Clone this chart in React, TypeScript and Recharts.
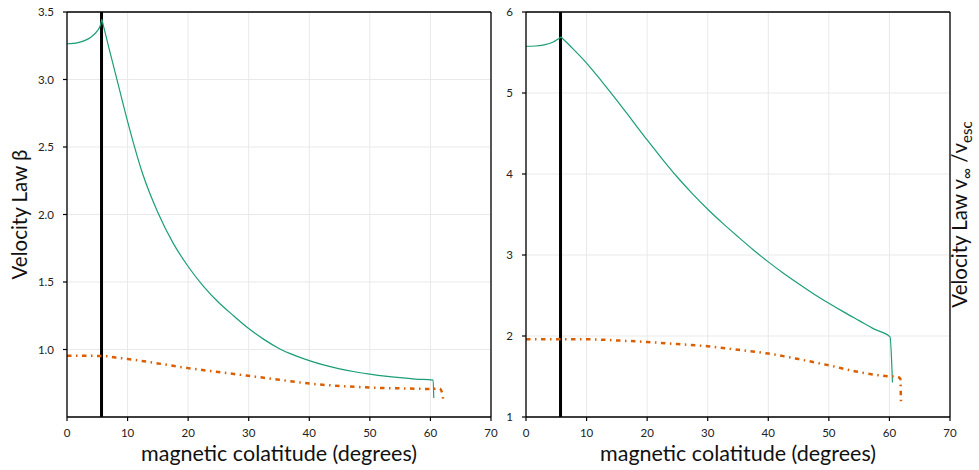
import React from "react";
import { LineChart, Line, XAxis, YAxis, CartesianGrid, ReferenceLine } from "recharts";

const FONT = "Lato, 'Noto Sans', sans-serif";
const GREEN = "#1b9e77";
const ORANGE = "#d95f02";
const GRID = "#e9e9e9";

const xTicks = [0, 10, 20, 30, 40, 50, 60, 70];
const betaTicks = [1.0, 1.5, 2.0, 2.5, 3.0, 3.5];
const vTicks = [1, 2, 3, 4, 5, 6];
const cutoffAngle = 5.7;

// left panel: velocity law beta (rise up to the cutoff, then decay)
const betaRiseTheta = [0, 1, 2, 3, 4, 5, 5.5, 5.75];
const betaRiseValues = [3.265, 3.267, 3.275, 3.29, 3.315, 3.36, 3.4, 3.446];
const betaFallTheta = [5.75, 7, 8.5, 10, 12.5, 15, 17.5, 20, 22.5, 25, 27.5, 30, 32.5, 35, 37.5, 40, 42.5, 45, 47.5, 50, 52.5, 55, 57.5, 60.45, 60.55];
const betaFallValues = [3.446, 3.22, 2.955, 2.69, 2.3, 2.015, 1.79, 1.615, 1.47, 1.35, 1.25, 1.155, 1.075, 1.008, 0.958, 0.918, 0.884, 0.857, 0.835, 0.818, 0.803, 0.791, 0.781, 0.773, 0.64];
const betaRefTheta = [0, 2, 4, 6, 8, 10, 15, 20, 25, 30, 35, 40, 45, 50, 55, 60, 61.5, 62, 62.1];
const betaRefValues = [0.953, 0.953, 0.953, 0.952, 0.94, 0.93, 0.897, 0.862, 0.833, 0.805, 0.776, 0.748, 0.73, 0.718, 0.712, 0.708, 0.71, 0.67, 0.62];

// right panel: v_inf / v_esc
const vRiseTheta = [0, 1.5, 3, 4.5, 5.78];
const vRiseValues = [5.577, 5.58, 5.595, 5.63, 5.691];
const vFallTheta = [5.78, 7.5, 10, 12.5, 15, 17.5, 20, 22.5, 25, 27.5, 30, 32.5, 35, 37.5, 40, 42.5, 45, 47.5, 50, 52.5, 55, 57.5, 60.1, 60.5];
const vFallValues = [5.691, 5.565, 5.37, 5.145, 4.91, 4.665, 4.42, 4.185, 3.96, 3.755, 3.565, 3.39, 3.225, 3.065, 2.915, 2.775, 2.645, 2.52, 2.405, 2.295, 2.19, 2.085, 1.99, 1.425];
const vRefTheta = [0, 5, 10, 15, 20, 25, 30, 35, 40, 45, 50, 55, 60, 61.1, 61.8, 61.9];
const vRefValues = [1.96, 1.96, 1.96, 1.945, 1.926, 1.9, 1.873, 1.83, 1.783, 1.715, 1.638, 1.555, 1.503, 1.5, 1.474, 1.185];

const zip = (xs: number[], ys: number[]) => xs.map((x, i) => ({ x, y: ys[i] }));

const axisLine = { stroke: "#000", strokeWidth: 1.3 };
const tickLine = { stroke: "#000", strokeWidth: 1.2 };
const tickStyle = { fill: "#222", fontSize: 11.5, fontFamily: FONT };

const xTitle = (props: any) => {
  const vb = props.viewBox;
  return (
    <text x={vb.x + vb.width / 2} y={vb.y + 44} textAnchor="middle" fontSize={21.5} fontFamily={FONT} fill="#111">
      magnetic colatitude (degrees)
    </text>
  );
};

const betaTitle = (props: any) => {
  const vb = props.viewBox;
  const cx = 27;
  const cy = vb.y + vb.height / 2;
  return (
    <text x={cx} y={cy} transform={`rotate(-90, ${cx}, ${cy})`} textAnchor="middle" fontSize={20.5} fontFamily={FONT} fill="#111">
      Velocity Law β
    </text>
  );
};

const vTitle = (props: any) => {
  const vb = props.viewBox;
  const cx = vb.x + 17;
  const cy = vb.y + vb.height / 2;
  return (
    <text x={cx} y={cy} transform={`rotate(-90, ${cx}, ${cy})`} textAnchor="middle" fontSize={20.5} fontFamily={FONT} fill="#111">
      Velocity Law v<tspan dy={5} fontSize={15}>∞</tspan>
      <tspan dy={-5}> /v</tspan>
      <tspan dy={5} fontSize={15}>esc</tspan>
    </text>
  );
};

type Pt = { x: number; y: number };

function Panel(props: {
  left: number; width: number; yWidth: number; rWidth: number;
  domain: number[]; yTicks: number[]; fmt: (v: number) => string;
  rise: Pt[]; fall: Pt[]; ref2: Pt[];
  leftTitle?: any; rightTitle?: any;
}) {
  return (
    <div style={{ position: "absolute", left: props.left, top: 0 }}>
      <LineChart width={props.width} height={470} margin={{ top: 0, right: 0, bottom: 0, left: 0 }}>
        <CartesianGrid stroke={GRID} strokeWidth={1} />
        <XAxis dataKey="x" type="number" domain={[0, 70]} ticks={xTicks} height={53}
          axisLine={axisLine} tickLine={tickLine} tickSize={4} tickMargin={8} tick={tickStyle}
          label={{ content: xTitle }} />
        <XAxis xAxisId="t" orientation="top" type="number" domain={[0, 70]} ticks={xTicks} height={12}
          axisLine={axisLine} tickLine={tickLine} tickSize={4} tick={false} />
        <YAxis type="number" domain={props.domain} ticks={props.yTicks} width={props.yWidth} allowDataOverflow
          axisLine={axisLine} tickLine={tickLine} tickSize={4} tickMargin={9} tick={tickStyle}
          tickFormatter={props.fmt} label={props.leftTitle ? { content: props.leftTitle } : undefined} />
        <YAxis yAxisId="r" orientation="right" type="number" domain={props.domain} ticks={props.yTicks} width={props.rWidth} allowDataOverflow
          axisLine={axisLine} tickLine={tickLine} tickSize={4} tick={false}
          label={props.rightTitle ? { content: props.rightTitle } : undefined} />
        <ReferenceLine x={cutoffAngle} stroke="#000" strokeWidth={3} />
        <Line data={props.rise} dataKey="y" type="monotone" stroke={GREEN} strokeWidth={1.2} dot={false} isAnimationActive={false} />
        <Line data={props.fall} dataKey="y" type="monotone" stroke={GREEN} strokeWidth={1.2} dot={false} isAnimationActive={false} />
        <Line data={props.ref2} dataKey="y" type="monotone" stroke={ORANGE} strokeWidth={2.5} strokeDasharray="4.5 4.5 1.5 4.5" dot={false} isAnimationActive={false} />
      </LineChart>
    </div>
  );
}

export default function App() {
  return (
    <div style={{ position: "absolute", left: 0, top: 0, width: 979, height: 470, background: "#fff" }}>
      <Panel left={0} width={500} yWidth={67} rWidth={9} domain={[0.5, 3.5]} yTicks={betaTicks}
        fmt={(v) => v.toFixed(1)}
        rise={zip(betaRiseTheta, betaRiseValues)} fall={zip(betaFallTheta, betaFallValues)}
        ref2={zip(betaRefTheta, betaRefValues)} leftTitle={betaTitle} />
      <Panel left={500} width={479} yWidth={26} rWidth={29} domain={[1, 6]} yTicks={vTicks}
        fmt={(v) => String(v)}
        rise={zip(vRiseTheta, vRiseValues)} fall={zip(vFallTheta, vFallValues)}
        ref2={zip(vRefTheta, vRefValues)} rightTitle={vTitle} />
    </div>
  );
}
